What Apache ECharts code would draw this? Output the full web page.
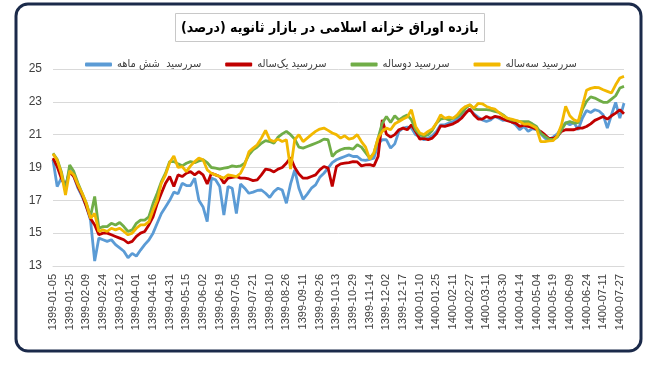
<!DOCTYPE html>
<html>
<head>
<meta charset="utf-8">
<script src="https://cdn.jsdelivr.net/npm/echarts@6/dist/echarts.min.js"></script>
<style>
html,body{margin:0;padding:0;background:#fff;}
#main{width:667px;height:371px;}
#main canvas{direction:rtl;}
</style>
</head>
<body>
<div id="main"></div>
<script>
var tickLabels = ['1399-01-05','1399-01-25','1399-02-09','1399-02-24','1399-03-12','1399-04-01','1399-04-16','1399-04-31','1399-05-15','1399-06-02','1399-06-19','1399-07-05','1399-07-21','1399-08-10','1399-08-26','1399-09-11','1399-09-26','1399-10-13','1399-10-29','1399-11-14','1399-12-02','1399-12-17','1400-01-10','1400-01-25','1400-02-11','1400-02-27','1400-03-11','1400-03-30','1400-04-14','1400-05-04','1400-05-19','1400-06-09','1400-06-24','1400-07-11','1400-07-27'];

var seriesNames = ['سررسید  شش ماهه','سررسید یک‌ساله','سررسید دوساله','سررسید سه‌ساله'];

var sixMonth = [19.47,17.84,18.35,17.84,18.86,18.45,17.74,17.23,16.62,15.8,13.3,14.7,14.6,14.5,14.6,14.3,14.1,13.9,13.5,13.77,13.6,13.97,14.3,14.58,15.0,15.6,16.2,16.6,17.0,17.5,17.4,18.04,17.9,17.9,18.35,17.0,16.6,15.7,18.35,18.25,17.84,16.1,17.84,17.74,16.2,18.0,17.74,17.43,17.5,17.6,17.63,17.43,17.17,17.53,17.74,17.63,16.82,18.0,18.86,17.74,17.06,17.38,17.74,17.94,18.4,18.65,18.96,19.3,19.47,19.57,19.67,19.77,19.67,19.67,19.47,19.43,19.5,19.57,20.44,20.69,20.69,20.18,20.44,21.2,21.4,21.46,21.4,21.0,20.85,20.69,20.79,20.93,21.2,21.6,21.6,21.7,21.8,21.95,22.2,22.4,22.5,22.27,22.07,21.9,21.8,21.9,22.11,22.0,21.87,21.9,21.8,21.6,21.3,21.5,21.2,21.36,21.3,21.05,20.79,20.69,20.85,21.05,21.4,21.74,21.6,21.74,21.3,22.0,22.47,22.35,22.52,22.44,22.21,21.4,22.21,22.97,22.0,22.92];

var oneYear = [19.57,19.06,18.35,17.84,18.75,18.45,17.84,17.33,16.62,15.9,15.5,14.9,15.0,15.0,14.9,14.8,14.7,14.6,14.4,14.5,14.8,15.0,15.1,15.5,16.0,16.8,17.43,18.04,18.45,17.84,18.55,18.45,18.65,18.75,18.55,18.75,18.55,18.0,18.65,18.55,18.45,18.04,18.35,18.4,18.45,18.35,18.35,18.3,18.2,18.25,18.55,18.9,18.86,18.73,18.9,19.0,19.26,19.6,19.0,18.6,18.35,18.35,18.45,18.55,18.86,19.06,18.96,17.84,19.06,19.22,19.26,19.3,19.36,19.34,19.1,19.16,19.18,19.1,19.67,21.9,21.03,20.85,21.0,21.3,21.4,21.3,21.6,21.2,20.73,20.77,20.69,20.79,21.05,21.54,21.5,21.58,21.66,21.8,22.0,22.3,22.56,22.2,21.95,21.95,22.11,22.0,22.11,22.07,21.95,21.85,21.77,21.7,21.5,21.58,21.5,21.44,21.34,21.2,21.0,20.77,20.77,20.9,21.2,21.3,21.3,21.3,21.4,21.4,21.5,21.66,21.87,21.99,22.11,21.95,22.15,22.31,22.52,22.27];

var twoYear = [19.87,19.5,18.75,17.6,19.16,18.75,18.04,17.43,16.82,16.01,17.23,15.3,15.4,15.4,15.6,15.5,15.65,15.4,15.1,15.2,15.6,15.8,15.8,16.0,16.8,17.43,18.14,18.65,19.36,19.36,19.22,19.1,19.26,19.36,19.3,19.4,19.47,19.3,19.0,18.96,18.9,18.96,19.0,19.1,19.06,19.1,19.26,19.77,20.08,20.25,20.48,20.64,20.58,20.48,20.85,21.05,21.2,21.0,20.73,20.24,20.18,20.28,20.38,20.48,20.58,20.73,20.69,19.67,19.95,20.08,20.16,20.18,20.12,20.38,20.24,19.91,19.57,19.87,20.79,21.7,22.11,21.74,22.15,21.9,22.07,22.2,21.9,21.3,21.0,20.9,21.0,21.26,21.7,21.95,22.0,21.9,22.0,22.1,22.3,22.62,22.82,22.56,22.52,22.52,22.52,22.5,22.42,22.35,22.2,22.0,21.9,21.85,21.8,21.8,21.8,21.66,21.5,21.1,20.9,20.73,20.69,20.85,21.3,21.7,21.8,21.7,21.74,22.52,23.03,23.3,23.23,23.1,22.97,22.97,23.17,23.37,23.84,23.94];

var threeYear = [19.83,19.45,18.65,17.33,18.8,18.55,17.94,17.43,16.82,15.9,16.2,15.1,15.2,15.1,15.3,15.2,15.3,15.1,14.9,15.0,15.3,15.5,15.5,15.7,16.4,17.0,18.04,18.55,19.3,19.7,19.0,19.06,18.75,19.1,19.36,19.57,19.47,18.86,18.65,18.55,18.45,18.35,18.55,18.5,18.45,18.65,19.16,19.95,20.18,20.38,20.79,21.26,20.69,20.58,20.73,20.58,20.69,18.9,20.69,21.0,20.58,20.79,21.0,21.2,21.34,21.4,21.26,21.1,21.0,20.79,20.93,20.73,20.79,21.0,20.58,20.24,19.5,19.9,20.79,21.2,21.4,21.3,21.66,21.8,21.95,22.07,22.52,21.5,21.1,21.0,21.2,21.34,21.7,22.21,22.0,22.07,22.0,22.2,22.52,22.72,22.82,22.62,22.9,22.88,22.72,22.62,22.56,22.35,22.15,22.0,21.95,21.87,21.8,21.64,21.66,21.54,21.4,20.58,20.58,20.62,20.64,20.93,21.6,22.72,22.15,21.9,21.8,22.72,23.7,23.82,23.88,23.86,23.74,23.64,23.54,24.04,24.45,24.55];

var yTicks = {min: 13, max: 25, step: 2};
var colors = ['#5b9bd5', '#c00000', '#70ad47', '#f2b800'];

// category list: each tick label followed by unlabeled trading points
var categories = [];
tickLabels.forEach(function (d, k) {
  categories.push(d);
  if (k < tickLabels.length - 1) { categories.push('', '', ''); }
});
while (categories.length < sixMonth.length) categories.push('');

var chart = echarts.init(document.getElementById('main'), null, {renderer: 'canvas'});
var allData = [sixMonth, oneYear, twoYear, threeYear];

chart.setOption({
  animation: false,
  backgroundColor: '#ffffff',
  graphic: [{
    type: 'rect',
    shape: {x: 16, y: 4, width: 625, height: 347, r: 12},
    style: {fill: 'none', stroke: '#1b2a4a', lineWidth: 3},
    z: 100
  }],
  title: {
    text: 'بازده اوراق خزانه اسلامی در بازار ثانویه (درصد)',
    left: 175,
    top: 13,
    padding: [8, 6, 7, 6],
    borderColor: '#c8c8c8',
    borderWidth: 1,
    textStyle: {fontFamily: 'DejaVu Sans Condensed', fontSize: 14, fontWeight: 'bold', color: '#000'}
  },
  legend: {
    data: seriesNames,
    left: 80,
    top: 54,
    icon: 'roundRect',
    itemWidth: 27,
    itemHeight: 4,
    itemGap: 24,
    textStyle: {fontFamily: 'DejaVu Sans Condensed', fontSize: 11, color: '#404040'}
  },
  grid: {left: 53, right: 43, top: 69, bottom: 105, containLabel: false, outerBoundsMode: 'none'},
  xAxis: {
    type: 'category',
    data: categories,
    boundaryGap: false,
    axisLine: {lineStyle: {color: '#d9d9d9'}},
    axisTick: {show: false},
    axisLabel: {
      interval: function (idx) { return idx % 4 === 0; },
      rotate: 90,
      margin: 8,
      fontFamily: 'Liberation Sans',
      fontSize: 11,
      color: '#404040'
    },
    splitLine: {show: false}
  },
  yAxis: {
    type: 'value',
    min: yTicks.min,
    max: yTicks.max,
    interval: yTicks.step,
    axisLine: {show: false},
    axisTick: {show: false},
    axisLabel: {fontFamily: 'Liberation Sans', fontSize: 12, color: '#404040', margin: 11},
    splitLine: {lineStyle: {color: '#d9d9d9', width: 1}}
  },
  series: seriesNames.map(function (n, k) {
    return {
      name: n,
      type: 'line',
      data: allData[k],
      showSymbol: false,
      symbol: 'none',
      color: colors[k],
      lineStyle: {width: 2.8, color: colors[k]},
      z: 2 + k
    };
  })
});
</script>
</body>
</html>
